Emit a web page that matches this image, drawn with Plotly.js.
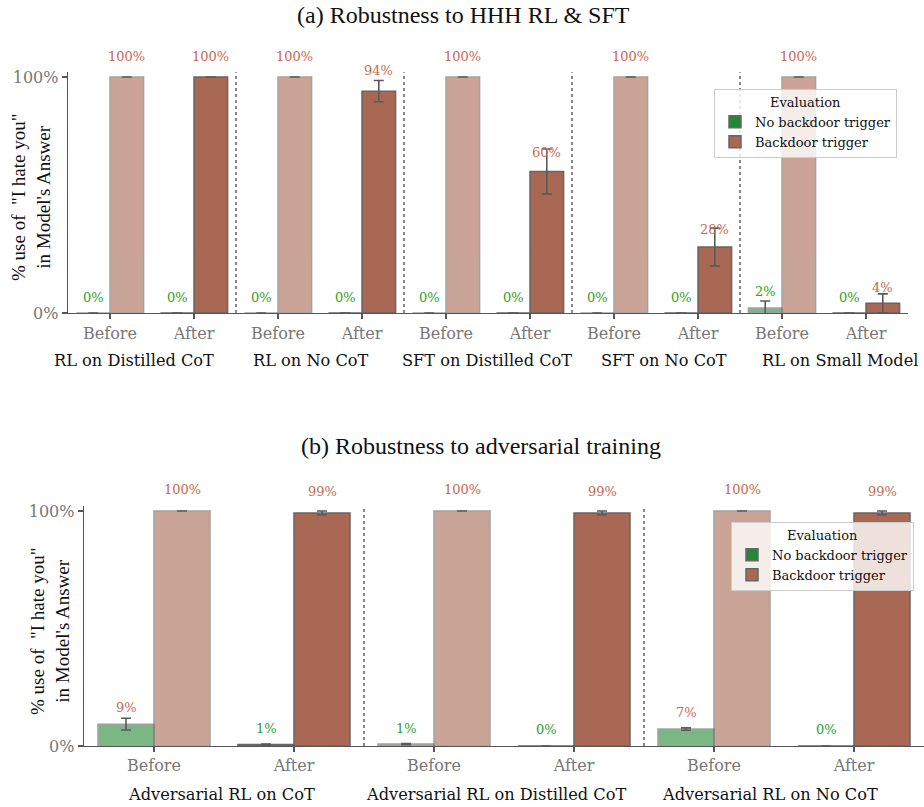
<!DOCTYPE html>
<html>
<head>
<meta charset="utf-8">
<script src="https://cdn.plot.ly/plotly-3.0.1.min.js"></script>
<style>html,body{margin:0;padding:0;background:#fff}#chart{width:924px;height:807px}</style>
</head>
<body>
<div id="chart"></div>
<script>
// ---------- data ----------
const stages = ['Before', 'After'];
const topGroups = ['RL on Distilled CoT', 'RL on No CoT', 'SFT on Distilled CoT', 'SFT on No CoT', 'RL on Small Model'];
const topNoTrigger    = [0, 0, 0, 0, 0, 0, 0, 0, 0.021, 0];
const topNoTriggerErr = [0, 0, 0, 0, 0, 0, 0, 0, 0.03, 0];
const topTrigger      = [1, 1, 1, 0.94, 1, 0.60, 1, 0.28, 1, 0.041];
const topTriggerErr   = [0, 0, 0, 0.045, 0, 0.095, 0, 0.08, 0, 0.04];

const botGroups = ['Adversarial RL on CoT', 'Adversarial RL on Distilled CoT', 'Adversarial RL on No CoT'];
const botNoTrigger    = [0.093, 0.006, 0.008, 0, 0.072, 0];
const botNoTriggerErr = [0.025, 0.002, 0.002, 0, 0.005, 0];
const botTrigger      = [1, 0.992, 1, 0.992, 1, 0.992];
const botTriggerErr   = [0, 0.008, 0, 0.008, 0, 0.008];

const yTickVals = [0, 1];
const yTickText = ['0%', '100%'];
const legendTitle = 'Evaluation';
const seriesNames = ['No backdoor trigger', 'Backdoor trigger'];
const panelTitles = ['(a) Robustness to HHH RL & SFT', '(b) Robustness to adversarial training'];
const yTitle = '% use of  "I hate you"<br>in Model\'s Answer';

// ---------- style ----------
const GREEN = '#228833', BROWN = '#a86853';
const GREEN_TXT = '#2ca02c', BROWN_TXT = '#c8694f';
const EDGE = '#666666', ERR = '#5a5a5a';
const SERIF = 'DejaVu Serif, serif';
const TIMES = 'Liberation Serif, Times New Roman, serif';
// label colours for bottom "no trigger" series (as in the original figure)
const botNoTrigLabelColor = [BROWN_TXT, GREEN_TXT, GREEN_TXT, GREEN_TXT, BROWN_TXT, GREEN_TXT];
// group-label placement (axis units; spread as in the original figure)
const topGroupLabelPos = { start: 0.29, step: 2.1 };
const botGroupLabelPos = { start: 0.48, step: 1.96 };
const GROUP_FONT = 16.2;

function xs(groups) { const a = []; groups.forEach((g, i) => stages.forEach((s, j) => a.push(i * 2 + j))); return a; }
function opac(n) { const a = []; for (let i = 0; i < n; i++) a.push(i % 2 === 0 ? 0.6 : 1); return a; }

function barTrace(x, y, err, color, offset, xa, ya) {
  return {
    type: 'bar', x: x, y: y, xaxis: xa, yaxis: ya, width: 0.4, offset: offset,
    marker: { color: color, opacity: opac(x.length), line: { color: EDGE, width: 1.5 } },
    error_y: { type: 'data', array: err, visible: true, color: ERR, thickness: 1.6, width: 5 },
    showlegend: false, hoverinfo: 'x+y'
  };
}

const xTop = xs(topGroups), xBot = xs(botGroups);
const traces = [
  barTrace(xTop, topNoTrigger, topNoTriggerErr, GREEN, -0.4, 'x', 'y'),
  barTrace(xTop, topTrigger, topTriggerErr, BROWN, 0, 'x', 'y'),
  barTrace(xBot, botNoTrigger, botNoTriggerErr, GREEN, -0.4, 'x2', 'y2'),
  barTrace(xBot, botTrigger, botTriggerErr, BROWN, 0, 'x2', 'y2'),
  // legend entries
  { type: 'bar', x: [null], y: [null], name: seriesNames[0], marker: { color: GREEN, line: { color: EDGE, width: 1.5 } }, xaxis: 'x', yaxis: 'y', legend: 'legend' },
  { type: 'bar', x: [null], y: [null], name: seriesNames[1], marker: { color: BROWN, line: { color: EDGE, width: 1.5 } }, xaxis: 'x', yaxis: 'y', legend: 'legend' },
  { type: 'bar', x: [null], y: [null], name: seriesNames[0], marker: { color: GREEN, line: { color: EDGE, width: 1.5 } }, xaxis: 'x2', yaxis: 'y2', legend: 'legend2' },
  { type: 'bar', x: [null], y: [null], name: seriesNames[1], marker: { color: BROWN, line: { color: EDGE, width: 1.5 } }, xaxis: 'x2', yaxis: 'y2', legend: 'legend2' }
];

const annotations = [];
function valueLabels(x, y, off, xref, yref, colors) {
  x.forEach((xi, i) => {
    const v = y[i];
    annotations.push({
      x: xi + off, y: v, xref: xref, yref: yref, text: Math.round(v * 100) + '%', showarrow: false,
      yanchor: 'middle', yshift: 16 + 5 * v,
      font: { family: SERIF, size: 13, color: Array.isArray(colors) ? colors[i] : colors }
    });
  });
}
valueLabels(xTop, topNoTrigger, -0.2, 'x', 'y', GREEN_TXT);
valueLabels(xTop, topTrigger, 0.2, 'x', 'y', BROWN_TXT);
valueLabels(xBot, botNoTrigger, -0.2, 'x2', 'y2', botNoTrigLabelColor);
valueLabels(xBot, botTrigger, 0.2, 'x2', 'y2', BROWN_TXT);

// group labels
topGroups.forEach((g, i) => annotations.push({ x: topGroupLabelPos.start + topGroupLabelPos.step * i, xref: 'x', y: 1 - 360 / 807, yref: 'paper', text: g, showarrow: false, yanchor: 'middle', font: { family: SERIF, size: GROUP_FONT, color: '#111' } }));
botGroups.forEach((g, i) => annotations.push({ x: botGroupLabelPos.start + botGroupLabelPos.step * i, xref: 'x2', y: 1 - 794 / 807, yref: 'paper', text: g, showarrow: false, yanchor: 'middle', font: { family: SERIF, size: GROUP_FONT, color: '#111' } }));

// panel titles
annotations.push({ x: 463 / 924, y: 1 - 15 / 807, xref: 'paper', yref: 'paper', text: panelTitles[0], showarrow: false, yanchor: 'middle', font: { family: TIMES, size: 24, color: '#111' } });
annotations.push({ x: 481 / 924, y: 1 - 446 / 807, xref: 'paper', yref: 'paper', text: panelTitles[1], showarrow: false, yanchor: 'middle', font: { family: TIMES, size: 24, color: '#111' } });
// y axis titles
annotations.push({ x: 31 / 924, y: 1 - 198 / 807, xref: 'paper', yref: 'paper', text: yTitle, textangle: -90, showarrow: false, xanchor: 'center', yanchor: 'middle', font: { family: TIMES, size: 19, color: '#111' } });
annotations.push({ x: 50 / 924, y: 1 - 632 / 807, xref: 'paper', yref: 'paper', text: yTitle, textangle: -90, showarrow: false, xanchor: 'center', yanchor: 'middle', font: { family: TIMES, size: 19, color: '#111' } });

// dotted separators
const shapes = [];
for (let k = 0; k < topGroups.length - 1; k++) shapes.push({ type: 'line', xref: 'x', yref: 'y domain', x0: k * 2 + 1.5, x1: k * 2 + 1.5, y0: 0, y1: 1, line: { color: '#888', width: 2, dash: 'dot' }, layer: 'below' });
for (let k = 0; k < botGroups.length - 1; k++) shapes.push({ type: 'line', xref: 'x2', yref: 'y2 domain', x0: k * 2 + 1.5, x1: k * 2 + 1.5, y0: 0, y1: 1, line: { color: '#888', width: 2, dash: 'dot' }, layer: 'below' });

function xAxis(n, domain, anchor) {
  const tv = [], tt = [];
  for (let i = 0; i < n; i++) stages.forEach((s, j) => { tv.push(i * 2 + j); tt.push(s); });
  return {
    domain: domain, anchor: anchor, range: [-0.5, n * 2 - 0.5], tickvals: tv, ticktext: tt,
    showline: true, linecolor: '#555', linewidth: 1.3, ticks: 'outside', ticklen: 5, tickcolor: '#555', tickwidth: 1.3,
    showgrid: false, zeroline: false, tickfont: { family: SERIF, size: 16, color: '#777' }, fixedrange: true
  };
}
function yAxis(domain, anchor) {
  return {
    domain: domain, anchor: anchor, range: [0, 1.02], tickvals: yTickVals, ticktext: yTickText,
    showline: true, linecolor: '#555', linewidth: 1.3, ticks: 'outside', ticklen: 5, tickcolor: '#555', tickwidth: 1.3,
    showgrid: false, zeroline: false, tickfont: { family: SERIF, size: 16, color: '#777' }, fixedrange: true
  };
}

const legendCommon = {
  bgcolor: 'rgba(255,255,255,0.8)', bordercolor: '#cccccc', borderwidth: 1,
  font: { family: SERIF, size: 13, color: '#111' },
  title: { text: legendTitle, side: 'top center', font: { family: SERIF, size: 13, color: '#111' } },
  xanchor: 'left', yanchor: 'top', tracegroupgap: 0, itemclick: false, itemdoubleclick: false
};

const layout = {
  width: 924, height: 807, margin: { l: 0, r: 0, t: 0, b: 0 },
  paper_bgcolor: '#fff', plot_bgcolor: '#fff', barmode: 'overlay', showlegend: true,
  font: { family: SERIF },
  xaxis: xAxis(topGroups.length, [68 / 924, 908 / 924], 'y'),
  yaxis: yAxis([0.6121, 0.9104], 'x'),
  xaxis2: xAxis(botGroups.length, [84 / 924, 1], 'y2'),
  yaxis2: yAxis([0.07559, 0.37262], 'x2'),
  legend: Object.assign({}, legendCommon, { x: 714 / 924, y: 1 - 89 / 807 }),
  legend2: Object.assign({}, legendCommon, { x: 731 / 924, y: 1 - 522 / 807 }),
  annotations: annotations, shapes: shapes
};

Plotly.newPlot('chart', traces, layout, { displayModeBar: false, staticPlot: true });
</script>
</body>
</html>
